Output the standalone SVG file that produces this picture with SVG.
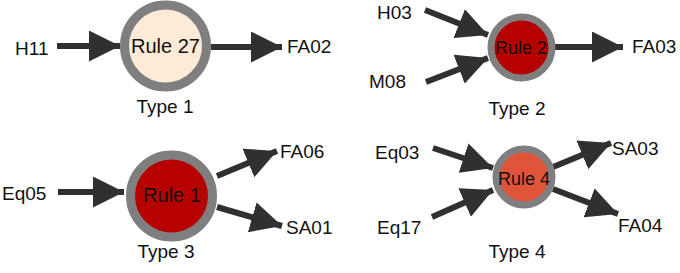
<svg xmlns="http://www.w3.org/2000/svg" width="680" height="273" viewBox="0 0 680 273">
<defs>
<style>
.lbl{font-family:"Liberation Sans",Arial,sans-serif;font-size:19px;fill:#111}
.rule{font-family:"Liberation Sans",Arial,sans-serif;fill:#111;text-anchor:middle}
.node{stroke:#7f7f7f}
.edge{stroke:#303030;stroke-width:6;fill:none}
</style>
<marker id="ah" viewBox="0 0 10 10" refX="10" refY="5" markerWidth="31" markerHeight="31" markerUnits="userSpaceOnUse" orient="auto"><path d="M0,0 L10,5 L0,10 Z" fill="#303030"/></marker>
</defs>
<rect width="680" height="273" fill="#fff"/>
<g id="connectors">
<line class="edge" x1="57" y1="46" x2="120" y2="46" marker-end="url(#ah)"/>
<line class="edge" x1="211" y1="47" x2="282" y2="47" marker-end="url(#ah)"/>
<line class="edge" x1="425" y1="10" x2="488" y2="35" marker-end="url(#ah)"/>
<line class="edge" x1="426" y1="82" x2="488" y2="58" marker-end="url(#ah)"/>
<line class="edge" x1="555" y1="47" x2="623" y2="47" marker-end="url(#ah)"/>
<line class="edge" x1="58" y1="192" x2="124" y2="192" marker-end="url(#ah)"/>
<line class="edge" x1="217" y1="176" x2="277" y2="151" marker-end="url(#ah)"/>
<line class="edge" x1="217" y1="207" x2="282" y2="226" marker-end="url(#ah)"/>
<line class="edge" x1="433" y1="148" x2="493" y2="168" marker-end="url(#ah)"/>
<line class="edge" x1="432" y1="217" x2="493" y2="190" marker-end="url(#ah)"/>
<line class="edge" x1="553" y1="167" x2="611" y2="143" marker-end="url(#ah)"/>
<line class="edge" x1="553" y1="189" x2="618" y2="214" marker-end="url(#ah)"/>
</g>
<g id="rule27">
<circle class="node" cx="165.5" cy="46" r="41" fill="#fdebd7" stroke-width="9"/>
<text class="rule" x="165.5" y="53" font-size="20">Rule 27</text>
<text class="rule" x="165" y="113" font-size="19">Type 1</text>
</g>
<g id="rule2">
<circle class="node" cx="521.5" cy="47.5" r="30.5" fill="#b70000" stroke-width="7"/>
<text class="rule" x="521" y="54" font-size="18">Rule 2</text>
<text class="rule" x="517" y="115" font-size="19">Type 2</text>
</g>
<g id="rule1">
<circle class="node" cx="171.5" cy="196" r="41" fill="#b70000" stroke-width="9"/>
<text class="rule" x="172" y="202" font-size="20">Rule 1</text>
<text class="rule" x="166" y="258" font-size="19">Type 3</text>
</g>
<g id="rule4">
<circle class="node" cx="524" cy="177" r="28" fill="#e0553a" stroke-width="7"/>
<text class="rule" x="524" y="185" font-size="18">Rule 4</text>
<text class="rule" x="517" y="258" font-size="19">Type 4</text>
</g>
<g id="labels">
<text class="lbl" x="15" y="55">H11</text>
<text class="lbl" x="287" y="53">FA02</text>
<text class="lbl" x="377" y="19">H03</text>
<text class="lbl" x="369" y="88">M08</text>
<text class="lbl" x="632" y="53">FA03</text>
<text class="lbl" x="2" y="200">Eq05</text>
<text class="lbl" x="280" y="158">FA06</text>
<text class="lbl" x="286" y="234">SA01</text>
<text class="lbl" x="375" y="159">Eq03</text>
<text class="lbl" x="377" y="234">Eq17</text>
<text class="lbl" x="612" y="155">SA03</text>
<text class="lbl" x="618" y="232">FA04</text>
</g>
</svg>
